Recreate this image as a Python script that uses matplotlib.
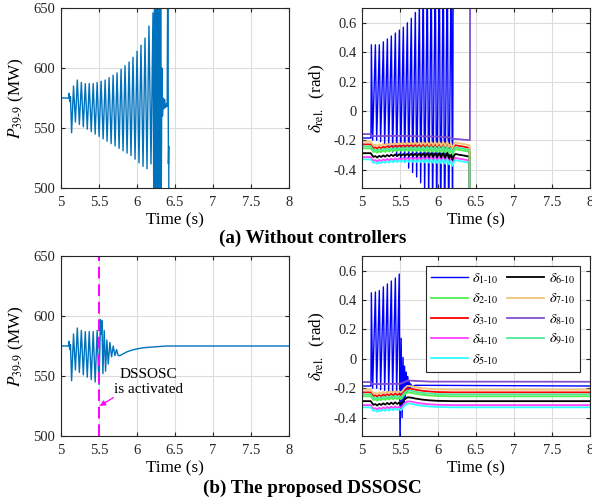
import matplotlib
matplotlib.use('Agg')
from matplotlib import pyplot as plt
import numpy as np

plt.rcParams['font.family'] = ['Liberation Serif', 'DejaVu Serif']
plt.rcParams['mathtext.fontset'] = 'stix'
plt.rcParams['axes.unicode_minus'] = False

# ---- P39-9, without controllers
t_pa = [5.000, 5.100, 5.108, 5.115, 5.125, 5.140, 5.165, 5.190, 5.215, 5.242,
        5.268, 5.294, 5.320, 5.346, 5.372, 5.398, 5.424, 5.450, 5.476, 5.502,
        5.528, 5.555, 5.581, 5.607, 5.633, 5.660, 5.686, 5.712, 5.738, 5.765,
        5.791, 5.817, 5.843, 5.870, 5.896, 5.922, 5.948, 5.975, 6.001, 6.027,
        6.053, 6.080, 6.106, 6.132, 6.158, 6.185, 6.211, 6.222, 6.232, 6.240,
        6.248, 6.256, 6.264, 6.272, 6.280, 6.288, 6.296, 6.304, 6.312, 6.320,
        6.328, 6.336, 6.345, 6.355, 6.365, 6.375, 6.390, 6.398, 6.406, 6.414,
        6.418, 6.424]
p_a = [575, 575, 579, 572, 576, 546, 585, 555, 590, 553,
       588, 551, 587, 549, 587, 547, 587, 545, 588, 543,
       589, 541, 590, 539, 592, 537, 594, 535, 596, 533,
       599, 531, 602, 529, 605, 527, 609, 524, 614, 521,
       619, 518, 625, 516, 635, 520, 646, 480, 670, 470,
       680, 460, 680, 450, 690, 450, 680, 470, 670, 490,
       600, 560, 575, 566, 574, 567, 570, 568, 700, 520,
       535, 400]

# ---- P39-9, with DSSOSC
t_pb = [5.000, 5.100, 5.108, 5.115, 5.125, 5.140, 5.165, 5.190, 5.215, 5.242,
        5.268, 5.294, 5.320, 5.346, 5.372, 5.398, 5.424, 5.450, 5.476, 5.500,
        5.521, 5.530, 5.539, 5.552, 5.569, 5.587, 5.604, 5.622, 5.644, 5.666,
        5.688, 5.710, 5.731, 5.753, 5.775, 5.820, 5.863, 5.930, 5.994, 6.080,
        6.170, 6.390, 8.000]
p_b = [575, 575, 579, 572, 576, 546, 585, 555, 590, 553,
       588, 551, 587, 549, 587, 547, 587, 545, 588, 543,
       597, 585, 596, 552, 588, 554, 580, 560, 578, 566,
       575, 567, 572, 567, 567, 568.5, 570, 571.5, 572.5, 573.5,
       574, 575, 575]

# ---- delta_1-10 (blue), without controllers
t_d1a = [5.000, 5.118, 5.123, 5.140, 5.176, 5.193, 5.228, 5.245, 5.281, 5.298,
         5.334, 5.351, 5.386, 5.403, 5.439, 5.456, 5.492, 5.509, 5.544, 5.561,
         5.597, 5.614, 5.649, 5.666, 5.702, 5.719, 5.755, 5.772, 5.807, 5.824,
         5.860, 5.877, 5.912, 5.929, 5.965, 5.982, 6.018, 6.035, 6.070, 6.087,
         6.123, 6.140, 6.175, 6.192, 6.200, 6.205]
d1_a = [-0.185, -0.185, 0.45, -0.20, 0.45, -0.20, 0.45, -0.21, 0.47, -0.23,
        0.49, -0.25, 0.51, -0.28, 0.53, -0.31, 0.55, -0.33, 0.57, -0.35,
        0.60, -0.39, 0.63, -0.42, 0.67, -0.45, 0.72, -0.49, 0.78, -0.55,
        0.85, -0.60, 0.90, -0.65, 0.95, -0.70, 1.0, -0.75, 1.0, -0.80,
        1.0, -0.80, 1.0, -0.80, 1.0, 2.0]

# ---- delta_1-10 (blue), with DSSOSC
t_d1b = [5.000, 5.118, 5.123, 5.140, 5.176, 5.193, 5.228, 5.245, 5.281, 5.298,
         5.334, 5.351, 5.386, 5.403, 5.439, 5.456, 5.490, 5.500, 5.515, 5.528,
         5.540, 5.550, 5.560, 5.570, 5.580, 5.590, 5.600, 5.610, 5.620, 5.630,
         5.640, 5.660, 5.700, 8.000]
d1_b = [-0.185, -0.185, 0.45, -0.20, 0.455, -0.20, 0.465, -0.21, 0.49, -0.215,
        0.51, -0.22, 0.53, -0.225, 0.55, -0.23, 0.577, -0.60, 0.14, -0.40,
        0.01, -0.30, -0.05, -0.26, -0.09, -0.23, -0.12, -0.21, -0.15, -0.20,
        -0.17, -0.19, -0.18, -0.185]

# ---- shared deviation of the other rotor angles from their levels
t_dev_a = [5.000, 5.115, 5.135, 5.150, 5.175, 5.200, 5.226, 5.253, 5.279, 5.305,
           5.332, 5.358, 5.384, 5.411, 5.437, 5.463, 5.490, 5.516, 5.542, 5.568,
           5.595, 5.621, 5.647, 5.674, 5.700, 5.726, 5.753, 5.779, 5.805, 5.832,
           5.858, 5.884, 5.911, 5.937, 5.963, 5.989, 6.016, 6.042, 6.068, 6.095,
           6.121, 6.147, 6.173, 6.190, 6.210, 6.230, 6.270, 6.330, 6.380, 6.415,
           6.425]
dev_a = [0, 0, -0.015, -0.025, -0.020, -0.030, -0.018, -0.026, -0.015, -0.024,
         -0.012, -0.022, -0.010, -0.020, -0.008, -0.019, -0.007, -0.018, -0.006, -0.018,
         -0.005, -0.018, -0.004, -0.019, -0.003, -0.020, -0.002, -0.021, -0.001, -0.022,
         0.000, -0.023, 0.000, -0.024, 0.000, -0.025, 0.000, -0.027, 0.000, -0.030,
         0.002, -0.035, -0.010, -0.045, -0.020, -0.005, -0.010, -0.015, -0.020, -0.025,
         -1.5]

t_dev_b = [5.000, 5.115, 5.135, 5.150, 5.175, 5.200, 5.226, 5.253, 5.279, 5.305,
           5.332, 5.358, 5.384, 5.411, 5.437, 5.463, 5.490, 5.510, 5.530, 5.550,
           5.575, 5.600, 5.650, 5.700, 5.800, 5.900, 6.000, 6.200, 8.000]
dev_b = [0, 0, -0.015, -0.025, -0.020, -0.030, -0.018, -0.026, -0.015, -0.024,
         -0.012, -0.022, -0.010, -0.020, -0.008, -0.019, -0.010, -0.020, -0.010, 0.005,
         0.018, 0.026, 0.024, 0.018, 0.010, 0.005, 0.002, 0.0, 0.0]

# levels of delta_2..delta_9 (delta_8 handled on its own)
names = ['2', '3', '4', '5', '6', '7', '9']
levels = [-0.255, -0.228, -0.315, -0.330, -0.288, -0.210, -0.242]

t_d8a = [5.000, 5.115, 5.130, 5.500, 6.000, 6.150, 6.200, 6.250, 6.420, 6.425]
d8_a = [-0.158, -0.158, -0.172, -0.170, -0.175, -0.180, -0.190, -0.192, -0.200, 2.0]
t_d8b = [5.000, 5.115, 5.130, 5.500, 5.550, 5.600, 5.700, 5.900, 8.000]
d8_b = [-0.158, -0.158, -0.172, -0.170, -0.160, -0.148, -0.150, -0.155, -0.156]

colors = {'1': '#0000FF', '2': '#4DF24D', '3': '#FF0000', '4': '#FF40FF',
          '5': '#30FFFF', '6': '#000000', '7': '#F2C47A', '8': '#8050D0',
          '9': '#4DE89A'}

xticks = [5, 5.5, 6, 6.5, 7, 7.5, 8]
xticklabels = ['5', '5.5', '6', '6.5', '7', '7.5', '8']
p_ticks = [500, 550, 600, 650]
d_ticks = [-0.4, -0.2, 0, 0.2, 0.4, 0.6]
d_ticklabels = ['-0.4', '-0.2', '0', '0.2', '0.4', '0.6']

fig = plt.figure(figsize=(5.92, 5.04), dpi=100)
ax_pa = fig.add_axes([0.103, 0.627, 0.385, 0.357])
ax_da = fig.add_axes([0.6115, 0.627, 0.385, 0.357])
ax_pb = fig.add_axes([0.103, 0.135, 0.385, 0.357])
ax_db = fig.add_axes([0.6115, 0.135, 0.385, 0.357])


def style(ax):
    ax.set_xlim(5, 8)
    ax.set_xticks(xticks)
    ax.set_xticklabels(xticklabels)
    ax.grid(True, color='#DCDCDC', linewidth=0.8)
    ax.set_axisbelow(True)
    ax.tick_params(direction='in', length=3, labelsize=10.5, colors='#262626',
                   top=True, right=True)
    ax.tick_params(axis='x', pad=6)
    ax.tick_params(axis='y', pad=4)
    for s in ax.spines.values():
        s.set_color('#262626')
        s.set_linewidth(0.8)
    ax.set_xlabel('Time (s)', fontsize=12.3, labelpad=2)


# P plots
for ax, t, p in [(ax_pa, t_pa, p_a), (ax_pb, t_pb, p_b)]:
    ax.plot(t, p, color='#0072BD', linewidth=1.0)
    style(ax)
    ax.set_ylim(500, 650)
    ax.set_yticks(p_ticks)
    ax.set_ylabel(r'$P_{\mathrm{39\text{-}9}}$ (MW)', fontsize=12.3, labelpad=5)

ax_pb.axvline(5.5, color='#FF00FF', linestyle=(0, (6, 3)), linewidth=1.4)
ax_pb.text(6.15, 545, 'DSSOSC\nis activated', ha='center', va='center',
           fontsize=11, linespacing=1.2)
ax_pb.annotate('', xy=(5.51, 525), xytext=(5.69, 532),
               arrowprops=dict(arrowstyle='-|>', color='#FF00FF', lw=0.9,
                               mutation_scale=8, shrinkA=0, shrinkB=0))

# delta plots
for ax, t1, d1, td, dv, t8, d8 in [
        (ax_da, t_d1a, d1_a, t_dev_a, dev_a, t_d8a, d8_a),
        (ax_db, t_d1b, d1_b, t_dev_b, dev_b, t_d8b, d8_b)]:
    lines = {}
    lines['1'], = ax.plot(t1, d1, color=colors['1'], linewidth=1.0)
    for n, lev in zip(names, levels):
        if n == '9':
            lines['8'], = ax.plot(t8, d8, color=colors['8'], linewidth=1.3)
        lines[n], = ax.plot(td, np.array(dv) + lev, color=colors[n], linewidth=1.3)
    style(ax)
    ax.set_ylim(-0.525, 0.7)
    ax.set_yticks(d_ticks)
    ax.set_yticklabels(d_ticklabels)
    ax.set_ylabel(r'$\delta_{\mathrm{rel.}}$  (rad)', fontsize=12.3, labelpad=5)

order = ['1', '2', '3', '4', '5', '6', '7', '8', '9']
leg = ax_db.legend([lines[n] for n in order],
                   [r'$\delta_{\mathrm{%s\text{-}10}}$' % n for n in order],
                   loc='upper right', bbox_to_anchor=(0.958, 0.943),
                   borderaxespad=0, ncol=2, fontsize=10.3, handlelength=2.6,
                   labelspacing=0.38, columnspacing=0.6, handletextpad=0.3,
                   fancybox=False, framealpha=1, edgecolor='#262626',
                   borderpad=0.35)
leg.get_frame().set_linewidth(0.8)

fig.text(0.528, 0.528, '(a) Without controllers', ha='center', va='center',
         fontsize=13.8, fontweight='bold')
fig.text(0.528, 0.032, '(b) The proposed DSSOSC', ha='center', va='center',
         fontsize=13.8, fontweight='bold')

fig.savefig('out.png', dpi=100)
